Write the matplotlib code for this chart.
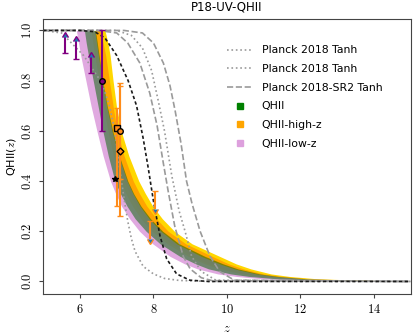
import matplotlib
matplotlib.use("Agg")
import matplotlib.pyplot as plt
from matplotlib.lines import Line2D
from matplotlib.ticker import FuncFormatter

# band edges, read as z positions at fixed QHII levels
q_band = [1.0, 0.95, 0.9, 0.8, 0.7, 0.6, 0.5, 0.4, 0.35, 0.3, 0.25, 0.2, 0.15, 0.1, 0.07, 0.05, 0.03, 0.02, 0.01, 0.0]
lowz_lo = [5.90, 5.96, 6.02, 6.16, 6.30, 6.46, 6.63, 6.83, 6.97, 7.13, 7.35, 7.62, 7.98, 8.45, 8.85, 9.20, 9.75, 10.25, 11.0, 13.5]
lowz_hi = [6.40, 6.45, 6.50, 6.60, 6.72, 6.87, 7.05, 7.28, 7.44, 7.63, 7.88, 8.20, 8.63, 9.30, 9.80, 10.2, 10.8, 11.3, 12.1, 14.8]
qhii_lo = [6.12, 6.17, 6.23, 6.36, 6.49, 6.62, 6.77, 6.95, 7.10, 7.28, 7.50, 7.80, 8.18, 8.72, 9.15, 9.50, 10.1, 10.6, 11.4, 14.0]
qhii_hi = [6.42, 6.47, 6.52, 6.62, 6.74, 6.89, 7.07, 7.30, 7.46, 7.66, 7.92, 8.25, 8.70, 9.40, 9.90, 10.3, 10.9, 11.4, 12.2, 15.0]
highz_lo = [6.30, 6.35, 6.40, 6.52, 6.63, 6.76, 6.91, 7.10, 7.25, 7.43, 7.66, 7.96, 8.38, 8.95, 9.40, 9.80, 10.4, 10.9, 11.7, 15.0]
highz_hi = [6.68, 6.76, 6.82, 6.90, 6.99, 7.12, 7.33, 7.60, 7.78, 7.98, 8.24, 8.57, 9.05, 9.80, 10.25, 10.65, 11.2, 11.7, 12.5, 15.0]
highz1_lo = [6.40, 6.45, 6.50, 6.62, 6.73, 6.85, 7.00, 7.20, 7.35, 7.53, 7.76, 8.06, 8.48, 9.05, 9.50, 9.90, 10.5, 11.0, 11.8, 15.0]
highz1_hi = [6.55, 6.63, 6.70, 6.80, 6.90, 7.01, 7.20, 7.45, 7.62, 7.82, 8.08, 8.40, 8.88, 9.60, 10.05, 10.45, 11.0, 11.5, 12.3, 15.0]

# Planck tanh curves
tanh_lo_z = [5, 5.5, 6.1, 6.6, 6.8, 6.95, 7.08, 7.2, 7.3, 7.4, 7.5, 7.72, 8.0, 8.3, 8.7, 9.5, 15]
tanh_lo_q = [1, 0.99, 0.9, 0.79, 0.7, 0.6, 0.45, 0.33, 0.24, 0.17, 0.12, 0.06, 0.03, 0.012, 0.004, 0, 0]
tanh_hi_z = [5, 7.0, 7.4, 7.7, 7.95, 8.13, 8.3, 8.5, 8.7, 8.86, 9.04, 9.3, 9.7, 15]
tanh_hi_q = [1, 1, 0.98, 0.93, 0.84, 0.72, 0.6, 0.42, 0.28, 0.2, 0.1, 0.04, 0.005, 0]
sr2_lo_z = [5, 6.5, 7.0, 7.3, 7.63, 7.9, 8.1, 8.27, 8.4, 8.58, 8.81, 9.0, 9.3, 9.6, 15]
sr2_lo_q = [1, 1, 0.99, 0.95, 0.87, 0.75, 0.62, 0.47, 0.36, 0.22, 0.1, 0.05, 0.015, 0.003, 0]
sr2_hi_z = [5, 7.2, 7.7, 8.0, 8.27, 8.45, 8.59, 8.75, 8.9, 9.05, 9.27, 9.54, 9.8, 10.2, 15]
sr2_hi_q = [1, 1, 0.99, 0.95, 0.87, 0.78, 0.68, 0.55, 0.40, 0.31, 0.2, 0.1, 0.04, 0.005, 0]
mean_z = [5, 6.0, 6.4, 6.68, 7.0, 7.31, 7.54, 7.72, 7.86, 8.0, 8.18, 8.36, 8.63, 8.99, 9.5, 15]
mean_q = [1, 1, 0.995, 0.97, 0.90, 0.80, 0.70, 0.57, 0.45, 0.32, 0.18, 0.09, 0.03, 0.005, 0, 0]

# observational constraints
lim_z = [5.59, 5.89, 6.29]
lim_q = [0.91, 0.887, 0.83]
lim_err = [0.065, 0.07, 0.065]
circ_z, circ_q, circ_err = 6.60, 0.80, 0.20
sq_z, sq_q, sq_lo, sq_hi = 7.00, 0.61, 0.31, 0.08
oc_z, oc_q, oc_err = 7.09, 0.60, 0.19
dia_z, dia_q, dia_err = 7.09, 0.52, 0.26
ul_z = [8.04, 7.90]
ul_q = [0.36, 0.24]
ul_err = [0.07, 0.07]
star_z, star_q = 6.94, 0.41

plt.rcParams["mathtext.fontset"] = "cm"
fig = plt.figure(figsize=(4.16, 3.36), dpi=100)
ax = fig.add_axes([0.104, 0.125, 0.883, 0.818])

ax.fill_betweenx(q_band, highz_lo, highz_hi, color="gold", lw=0)
ax.fill_betweenx(q_band, highz1_lo, highz1_hi, color="orange", lw=0)
ax.fill_betweenx(q_band, lowz_lo, lowz_hi, color="plum", alpha=0.9, lw=0)
ax.fill_betweenx(q_band, qhii_lo, qhii_hi, color="darkgreen", alpha=0.5, lw=0)

grey = "#9a9a9a"
ax.plot(tanh_lo_z, tanh_lo_q, ls=":", color=grey, lw=1.2)
ax.plot(tanh_hi_z, tanh_hi_q, ls=":", color=grey, lw=1.2)
ax.plot(sr2_lo_z, sr2_lo_q, ls="--", color=grey, lw=1.2)
ax.plot(sr2_hi_z, sr2_hi_q, ls="--", color=grey, lw=1.2)
ax.plot(mean_z, mean_q, color="#1a1a1a", lw=1.2, dashes=(2, 1.5))

purple = "purple"
orange = "#ff8c1a"
cap = 2.2
ax.errorbar(lim_z, lim_q, yerr=lim_err, lolims=True, fmt="none", ecolor=purple, elinewidth=1.5, capsize=cap)
ax.errorbar(circ_z, circ_q, yerr=circ_err, fmt="o", color=purple, mfc=purple, mec="black", ms=4, elinewidth=1.5, capsize=cap)
ax.errorbar(sq_z, sq_q, yerr=[[sq_lo], [sq_hi]], fmt="s", color=orange, mfc=orange, mec="black", ms=4, elinewidth=1.5, capsize=cap)
ax.errorbar(oc_z, oc_q, yerr=oc_err, fmt="o", color=orange, mfc=orange, mec="black", ms=4, elinewidth=1.5, capsize=cap)
ax.errorbar(dia_z, dia_q, yerr=dia_err, fmt="D", color=orange, mfc=orange, mec="black", ms=3.5, elinewidth=1.5, capsize=cap)
ax.errorbar(ul_z, ul_q, yerr=ul_err, uplims=True, fmt="none", ecolor=orange, elinewidth=1.5, capsize=cap)
ax.plot(star_z, star_q, "*", color="black", ms=4)

ax.set_xlim(5, 15)
ax.set_ylim(-0.05, 1.045)
ax.set_xticks([6, 8, 10, 12, 14])
ax.set_yticks([0.0, 0.2, 0.4, 0.6, 0.8, 1.0])
ax.xaxis.set_major_formatter(FuncFormatter(lambda v, p: f"${v:g}$"))
ax.yaxis.set_major_formatter(FuncFormatter(lambda v, p: f"${v:.1f}$"))
for lab in ax.get_yticklabels():
    lab.set_rotation(90)
    lab.set_va("center")
ax.tick_params(labelsize=9, length=3, color="#444444")
for s in ax.spines.values():
    s.set_color("#444444")
ax.set_xlabel("$z$", fontsize=9)
ax.set_ylabel("QHII($z$)", fontsize=8, labelpad=2)
ax.set_title("P18-UV-QHII", fontsize=8.5)

handles = [
    Line2D([], [], ls=":", color=grey, lw=1.2),
    Line2D([], [], ls=":", color=grey, lw=1.2),
    Line2D([], [], ls="--", color=grey, lw=1.2),
    Line2D([], [], ls="none", marker="s", color="green", ms=5),
    Line2D([], [], ls="none", marker="s", color="orange", ms=5),
    Line2D([], [], ls="none", marker="s", color="plum", ms=5),
]
labels = ["Planck 2018 Tanh", "Planck 2018 Tanh", "Planck 2018-SR2 Tanh", "QHII", "QHII-high-z", "QHII-low-z"]
ax.legend(handles, labels, loc="upper right", bbox_to_anchor=(0.95, 0.94), frameon=False,
          fontsize=7.8, labelspacing=0.8, handlelength=2.4)

fig.savefig("out.png", dpi=100)
